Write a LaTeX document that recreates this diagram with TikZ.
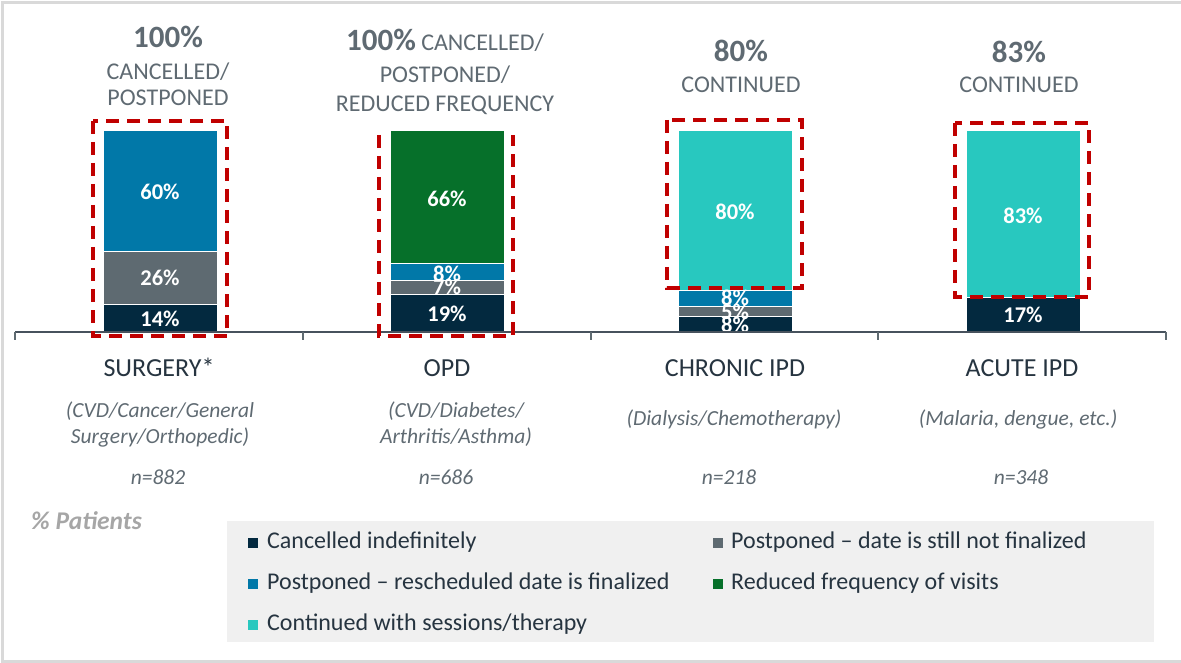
\documentclass[tikz,border=0pt]{standalone}
\usepackage{fontspec}
\setmainfont{Carlito}
\definecolor{navy}{HTML}{03293F}
\definecolor{slate}{HTML}{5E6A71}
\definecolor{ocean}{HTML}{0178A8}
\definecolor{forest}{HTML}{06702A}
\definecolor{aqua}{HTML}{28C8BF}
\definecolor{boxred}{HTML}{C00000}
\definecolor{headgray}{HTML}{5F6A72}
\definecolor{catdark}{HTML}{263440}
\definecolor{keybg}{HTML}{F0F0F0}
\definecolor{framegray}{HTML}{D9D9D9}
\tikzset{seg/.style = {draw=white, line width=1pt}}
\tikzset{pct/.style = {inner sep=0pt, text=white, font=\bfseries\fontsize{22.5}{24}\selectfont}}
\tikzset{head/.style = {anchor=base, inner sep=0pt, text=headgray, font=\fontsize{24}{26}\selectfont}}
\tikzset{headnum/.style = {head, font=\bfseries\fontsize{31}{34}\selectfont}}
\tikzset{cat/.style = {anchor=base, inner sep=0pt, text=catdark, font=\fontsize{26}{28}\selectfont}}
\tikzset{note/.style = {anchor=base, inner sep=0pt, text=headgray, font=\itshape\fontsize{21.5}{24}\selectfont}}
\tikzset{redbox/.style = {draw=boxred, line width=3.5pt, dash pattern=on 13pt off 8pt}}
\tikzset{swatch/.style = {anchor=south west, minimum size=10pt, inner sep=0pt}}
\tikzset{key/.style = {anchor=base west, inner sep=0pt, text=catdark, font=\fontsize{24}{26}\selectfont}}
\begin{document}
\begin{tikzpicture}[x=1pt, y=-1pt]
			\useasboundingbox (0,0) rectangle (1181,663);
			\draw [framegray, line width=3pt] (1181,3) -- (2,3) -- (2,661.5) -- (1181,661.5);
			% surgery
			\filldraw [seg, fill=navy] (103,332) rectangle (217,304);
			\filldraw [seg, fill=slate] (103,304) rectangle (217,251.5);
			\filldraw [seg, fill=ocean] (103,251.5) rectangle (217,131);
			\node [pct] (s1) at (160,319) {14\%};
			\node [pct] (s2) at (160,278) {26\%};
			\node [pct] (s3) at (160,192) {60\%};
			% opd
			\filldraw [seg, fill=navy] (390,332) rectangle (504,294);
			\filldraw [seg, fill=slate] (390,294) rectangle (504,280);
			\filldraw [seg, fill=ocean] (390,280) rectangle (504,264);
			\filldraw [seg, fill=forest] (390,264) rectangle (504,131);
			\node [pct] (o1) at (447,314) {19\%};
			\node [pct] (o2) at (447,287) {7\%};
			\node [pct] (o3) at (447,274) {8\%};
			\node [pct] (o4) at (447,199) {66\%};
			% chronic ipd
			\filldraw [seg, fill=navy] (678,332) rectangle (792,316);
			\filldraw [seg, fill=slate] (678,316) rectangle (792,306);
			\filldraw [seg, fill=ocean] (678,306) rectangle (792,290);
			\filldraw [seg, fill=aqua] (678,290) rectangle (792,131);
			\node [pct] (c1) at (735,324.5) {8\%};
			\node [pct] (c2) at (735,312) {5\%};
			\node [pct] (c3) at (735,298) {8\%};
			\node [pct] (c4) at (735,212) {80\%};
			% acute ipd
			\filldraw [seg, fill=navy] (966,332) rectangle (1080,297);
			\filldraw [seg, fill=aqua] (966,297) rectangle (1080,131);
			\node [pct] (a1) at (1023,315) {17\%};
			\node [pct] (a2) at (1023,216) {83\%};
			% axis
			\draw [catdark!85, line width=1.5pt] (15,332) -- (1166,332);
			\foreach \x in {15,303,591,878,1166}
				\draw [slate, line width=1.2pt] (\x,332) -- (\x,340);
			% red frames
			\draw [redbox] (93,121) rectangle (227,336);
			\draw [redbox] (379,135) -- (379,336) -- (513,336) -- (513,135);
			\draw [redbox] (667,120) rectangle (802,288);
			\draw [redbox] (955,123) rectangle (1089,297);
			% headers
			\node [headnum] (h1) at (168,47.5) {100\%};
			\node [head] (h2) at (168,79.5) {CANCELLED/};
			\node [head] (h3) at (168,106) {POSTPONED};
			\node [head] (h4) at (445,51) {{\bfseries\fontsize{31}{34}\selectfont 100\%} CANCELLED/};
			\node [head] (h5) at (445,82.5) {POSTPONED/};
			\node [head] (h6) at (445,111.5) {REDUCED FREQUENCY};
			\node [headnum] (h7) at (741,62) {80\%};
			\node [head] (h8) at (741,93) {CONTINUED};
			\node [headnum] (h9) at (1019,63) {83\%};
			\node [head] (h10) at (1019,93) {CONTINUED};
			% categories
			\node [cat] (k1) at (159,376) {SURGERY*};
			\node [cat] (k2) at (447,376) {OPD};
			\node [cat] (k3) at (735,376) {CHRONIC IPD};
			\node [cat] (k4) at (1022,376) {ACUTE IPD};
			\node [note] (n1) at (160,417) {(CVD/Cancer/General};
			\node [note] (n2) at (160,443) {Surgery/Orthopedic)};
			\node [note] (n3) at (456,417) {(CVD/Diabetes/};
			\node [note] (n4) at (456,443) {Arthritis/Asthma)};
			\node [note] (n5) at (734,425) {(Dialysis/Chemotherapy)};
			\node [note] (n6) at (1018,425) {(Malaria, dengue, etc.)};
			\node [note] (n7) at (158,484) {n=882};
			\node [note] (n8) at (446,484) {n=686};
			\node [note] (n9) at (729,484) {n=218};
			\node [note] (n10) at (1021,484) {n=348};
			\node [anchor=base west, inner sep=0pt, text=black!35, font=\bfseries\itshape\fontsize{25.5}{28}\selectfont] (unit) at (31,529) {\% Patients};
			% legend
			\fill [keybg] (227,521) rectangle (1154,642);
			\node [swatch, fill=navy] (l1) at (248,548) {};
			\node [key] (t1) at (267,548) {Cancelled indefinitely};
			\node [swatch, fill=slate] (l2) at (713,548) {};
			\node [key] (t2) at (731,548) {Postponed -- date is still not finalized};
			\node [swatch, fill=ocean] (l3) at (248,589) {};
			\node [key] (t3) at (267,589) {Postponed -- rescheduled date is finalized};
			\node [swatch, fill=forest] (l4) at (713,589) {};
			\node [key] (t4) at (731,589) {Reduced frequency of visits};
			\node [swatch, fill=aqua] (l5) at (248,630) {};
			\node [key] (t5) at (267,630) {Continued with sessions/therapy};
		\end{tikzpicture}
\end{document}
